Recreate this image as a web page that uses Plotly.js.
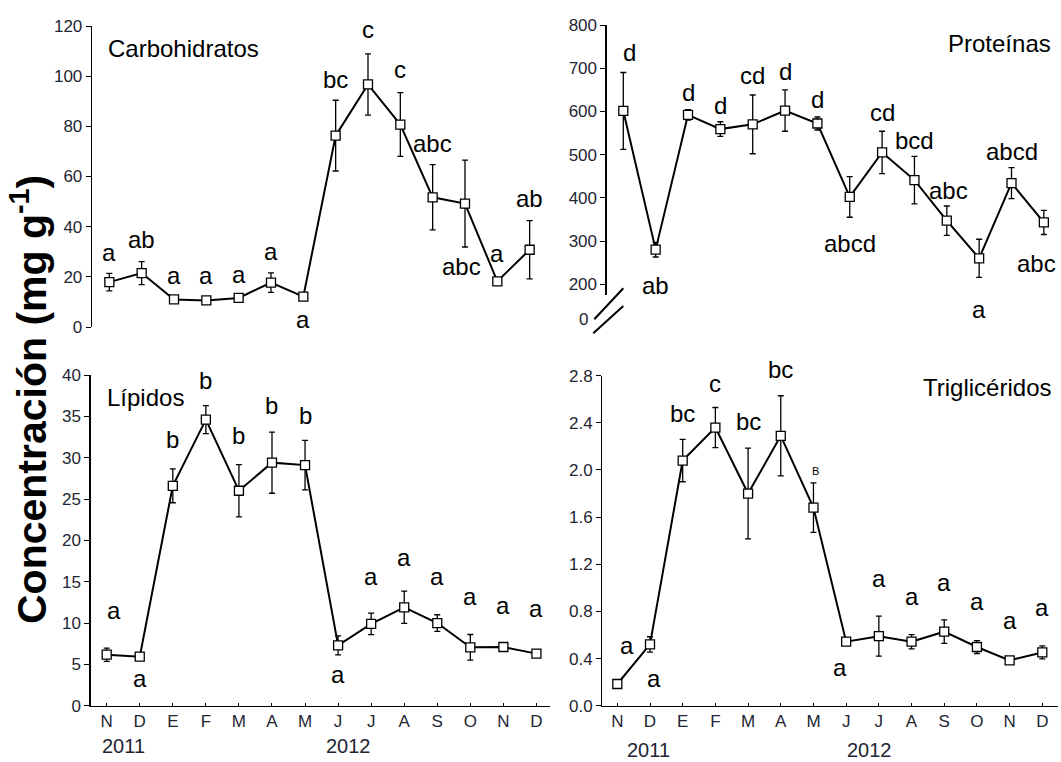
<!DOCTYPE html>
<html>
<head>
<meta charset="utf-8">
<script src="https://cdn.plot.ly/plotly-3.0.1.min.js"></script>
<style>
  html, body { margin: 0; padding: 0; background: #fff; }
  #chart { width: 1061px; height: 762px; }
</style>
</head>
<body>
<div id="chart"></div>
<script>
// Monthly sampling, Nov 2011 – Dec 2012
const monthLabels = ['N', 'D', 'E', 'F', 'M', 'A', 'M', 'J', 'J', 'A', 'S', 'O', 'N', 'D'];

// Carbohidratos (mg g-1): mean, standard error, significance groups
const carbMean   = [17.9, 21.5, 11.0, 10.6, 11.6, 17.7, 12.1, 76.3, 96.7, 80.7, 51.7, 49.2, 18.2, 30.8];
const carbErr    = [3.5, 4.6, 0.8, 0.8, 0.8, 3.9, 1.2, 14.1, 12.2, 12.7, 13.0, 17.3, 1.5, 11.6];
const carbGroups = ['a', 'ab', 'a', 'a', 'a', 'a', 'a', 'bc', 'c', 'c', 'abc', 'abc', 'a', 'ab'];

// Proteínas (mg g-1)
const protMean   = [601, 280, 592, 559, 570, 602, 572, 402, 505, 441, 347, 260, 434, 343];
const protErr    = [89, 17, 12, 17, 68, 48, 15, 47, 49, 55, 34, 44, 36, 28];
const protGroups = ['d', 'ab', 'd', 'd', 'cd', 'd', 'd', 'abcd', 'cd', 'bcd', 'abc', 'a', 'abcd', 'abc'];

// Lípidos (mg g-1)
const lipMean   = [6.17, 5.93, 26.6, 34.6, 26.0, 29.4, 29.1, 7.3, 9.9, 11.9, 10.0, 7.06, 7.1, 6.3];
const lipErr    = [0.8, 0.4, 2.05, 1.7, 3.15, 3.7, 3.0, 1.15, 1.3, 1.95, 1.0, 1.55, 0.3, 0.4];
const lipGroups = ['a', 'a', 'b', 'b', 'b', 'b', 'b', 'a', 'a', 'a', 'a', 'a', 'a', 'a'];

// Triglicéridos (mg g-1)
const trigMean   = [0.184, 0.52, 2.08, 2.36, 1.80, 2.29, 1.68, 0.543, 0.59, 0.543, 0.628, 0.498, 0.385, 0.452];
const trigErr    = [0, 0.065, 0.18, 0.17, 0.385, 0.34, 0.21, 0.03, 0.17, 0.06, 0.1, 0.055, 0.02, 0.055];
const trigGroups = ['a', 'a', 'bc', 'c', 'bc', 'bc', 'B', 'a', 'a', 'a', 'a', 'a', 'a', 'a'];

// Placement of the group letters, in pixels relative to each point (negative dy = above)
const carbLetterDy = [-30, -34, -24, -25, -23, -31, 23, -56, -55, -55, -54, 63, -28, -51];
const carbLetterDx = [0, 0, 0, 0, 0, 0, 0, 0, 0, 0, 0, -3, 0, 0];
const protLetterDy = [-58, 36, -22, -24, -49, -39, -24, 47, -40, -40, -30, 51, -32, 41];
const protLetterDx = [6, 0, 0, 0, 0, 0, 0, 0, 0, 0, 2, 0, 0, -7];
const lipLetterDy  = [-44, 22, -46, -39, -55, -57, -50, 29, -47, -50, -47, -51, -42, -45];
const lipLetterDx  = [7, 0, 0, 0, 0, 0, 0, 0, 0, 0, 0, 0, 0, 0];
const trigLetterDy = [-39, 34, -47, -44, -72, -66, -37, 26, -58, -45, -49, -46, -40, -45];
const trigLetterDx = [10, 4, 0, 0, 0, 0, 2, -6, 0, 0, 0, 0, 0, 0];

const W = 1061, H = 762;
const px = v => v / W;          // horizontal pixel -> paper fraction
const py = v => 1 - v / H;      // vertical pixel -> paper fraction

const FONT = 'Liberation Sans, Arial, sans-serif';
const TICK_FONT = { family: FONT, size: 17, color: '#1e2533' };
const YEAR_FONT = { family: FONT, size: 20, color: '#1e2533' };
const idx = monthLabels.map((_, i) => i);

function series(xa, ya, mean, err) {
  return {
    type: 'scatter',
    mode: 'lines+markers',
    x: idx, y: mean,
    xaxis: xa, yaxis: ya,
    cliponaxis: false,
    line: { color: '#000', width: 2 },
    marker: { symbol: 'square', size: 9, color: '#fff', line: { color: '#000', width: 1.3 } },
    error_y: { type: 'data', array: err, visible: true, color: '#000', thickness: 1.3, width: 3 },
    hoverinfo: 'skip'
  };
}

function letters(xref, yref, mean, groups, dy, dx) {
  return groups.map((g, i) => ({
    x: i, y: mean[i], xref: xref, yref: yref,
    text: g, showarrow: false,
    xanchor: 'center', yanchor: 'middle',
    xshift: dx[i], yshift: -dy[i],
    font: { family: FONT, size: g === 'B' ? 11 : 24, color: '#000' }
  }));
}

const data = [
  series('x', 'y', carbMean, carbErr),
  series('x2', 'y2', protMean, protErr),
  series('x3', 'y3', lipMean, lipErr),
  series('x4', 'y4', trigMean, trigErr)
];

const hiddenX = { showline: false, showticklabels: false, ticks: '', showgrid: false, zeroline: false, fixedrange: true };
const shownX = {
  showline: true, linecolor: '#000', linewidth: 1.3, mirror: false,
  ticks: 'inside', ticklen: 3, tickwidth: 1, tickcolor: '#000',
  tickvals: idx, ticktext: monthLabels,
  tickfont: { family: FONT, size: 17, color: '#1e2533' },
  showgrid: false, zeroline: false, fixedrange: true
};
const baseY = {
  showline: true, linecolor: '#000', linewidth: 1.3,
  ticks: 'outside', ticklen: 5, tickwidth: 1, tickcolor: '#000',
  tickfont: TICK_FONT, showgrid: false, zeroline: false, fixedrange: true
};

const layout = {
  width: W, height: H,
  margin: { l: 0, r: 0, t: 0, b: 0, pad: 0 },
  paper_bgcolor: '#fff', plot_bgcolor: 'rgba(0,0,0,0)',
  showlegend: false,
  font: { family: FONT, color: '#000' },

  xaxis:  Object.assign({}, hiddenX, { domain: [px(92), px(540)], range: [-0.536, 13.32], anchor: 'y' }),
  yaxis:  Object.assign({}, baseY, { domain: [py(327), py(26)], range: [0, 120], tickvals: [0, 20, 40, 60, 80, 100, 120], anchor: 'x' }),

  xaxis2: Object.assign({}, hiddenX, { domain: [px(606.7), 1], range: [-0.513, 13.53], anchor: 'y2' }),
  yaxis2: Object.assign({}, baseY, { domain: [py(295), py(25)], range: [175, 800], tickvals: [200, 300, 400, 500, 600, 700, 800], anchor: 'x2' }),

  xaxis3: Object.assign({}, shownX, { domain: [px(90.7), px(550)], range: [-0.484, 13.41], anchor: 'y3' }),
  yaxis3: Object.assign({}, baseY, { domain: [py(705.7), py(375)], range: [0, 40], tickvals: [0, 5, 10, 15, 20, 25, 30, 35, 40], anchor: 'x3' }),

  xaxis4: Object.assign({}, shownX, { domain: [px(602.3), px(1058)], range: [-0.459, 13.48], anchor: 'y4' }),
  yaxis4: Object.assign({}, baseY, { domain: [py(705.7), py(375.7)], range: [0, 2.8], tickvals: [0, 0.4, 0.8, 1.2, 1.6, 2.0, 2.4, 2.8], tickformat: '.1f', anchor: 'x4' }),

  // axis break on the protein panel
  shapes: [
    { type: 'line', xref: 'paper', yref: 'paper', x0: px(594.3), y0: py(319.3), x1: px(623.3), y1: py(288.3), line: { color: '#000', width: 2 } },
    { type: 'line', xref: 'paper', yref: 'paper', x0: px(593.3), y0: py(333.3), x1: px(623.3), y1: py(306), line: { color: '#000', width: 2 } }
  ],

  annotations: [].concat(
    letters('x', 'y', carbMean, carbGroups, carbLetterDy, carbLetterDx),
    letters('x2', 'y2', protMean, protGroups, protLetterDy, protLetterDx),
    letters('x3', 'y3', lipMean, lipGroups, lipLetterDy, lipLetterDx),
    letters('x4', 'y4', trigMean, trigGroups, trigLetterDy, trigLetterDx),
    [
      // panel names
      { xref: 'paper', yref: 'paper', x: px(106), y: py(48), xanchor: 'left', yanchor: 'middle', text: 'Carbohidratos', showarrow: false, font: { family: FONT, size: 24, color: '#000' } },
      { xref: 'paper', yref: 'paper', x: px(1053), y: py(44), xanchor: 'right', yanchor: 'middle', text: 'Proteínas', showarrow: false, font: { family: FONT, size: 24, color: '#000' } },
      { xref: 'paper', yref: 'paper', x: px(105), y: py(397), xanchor: 'left', yanchor: 'middle', text: 'Lípidos', showarrow: false, font: { family: FONT, size: 24, color: '#000' } },
      { xref: 'paper', yref: 'paper', x: px(1053), y: py(387), xanchor: 'right', yanchor: 'middle', text: 'Triglicéridos', showarrow: false, font: { family: FONT, size: 24, color: '#000' } },
      // zero label below the axis break
      { xref: 'paper', yref: 'paper', x: px(583), y: py(319), xanchor: 'center', yanchor: 'middle', text: '0', showarrow: false, font: TICK_FONT },
      // years under the month axes
      { xref: 'x3', yref: 'paper', x: 0.5, y: py(746), text: '2011', showarrow: false, yanchor: 'middle', font: YEAR_FONT },
      { xref: 'x3', yref: 'paper', x: 7.3, y: py(746), text: '2012', showarrow: false, yanchor: 'middle', font: YEAR_FONT },
      { xref: 'x4', yref: 'paper', x: 0.94, y: py(750), text: '2011', showarrow: false, yanchor: 'middle', font: YEAR_FONT },
      { xref: 'x4', yref: 'paper', x: 7.7, y: py(750), text: '2012', showarrow: false, yanchor: 'middle', font: YEAR_FONT },
      // shared y title
      { xref: 'paper', yref: 'paper', x: px(29), y: py(400), xanchor: 'center', yanchor: 'middle', textangle: -90,
        text: 'Concentración (mg g<sup>-1</sup>)', showarrow: false,
        font: { family: 'Liberation Sans Narrow, Liberation Sans, Arial, sans-serif', size: 41, weight: 'bold', color: '#000' } }
    ]
  )
};

Plotly.newPlot('chart', data, layout, { staticPlot: true, displayModeBar: false });
</script>
</body>
</html>
